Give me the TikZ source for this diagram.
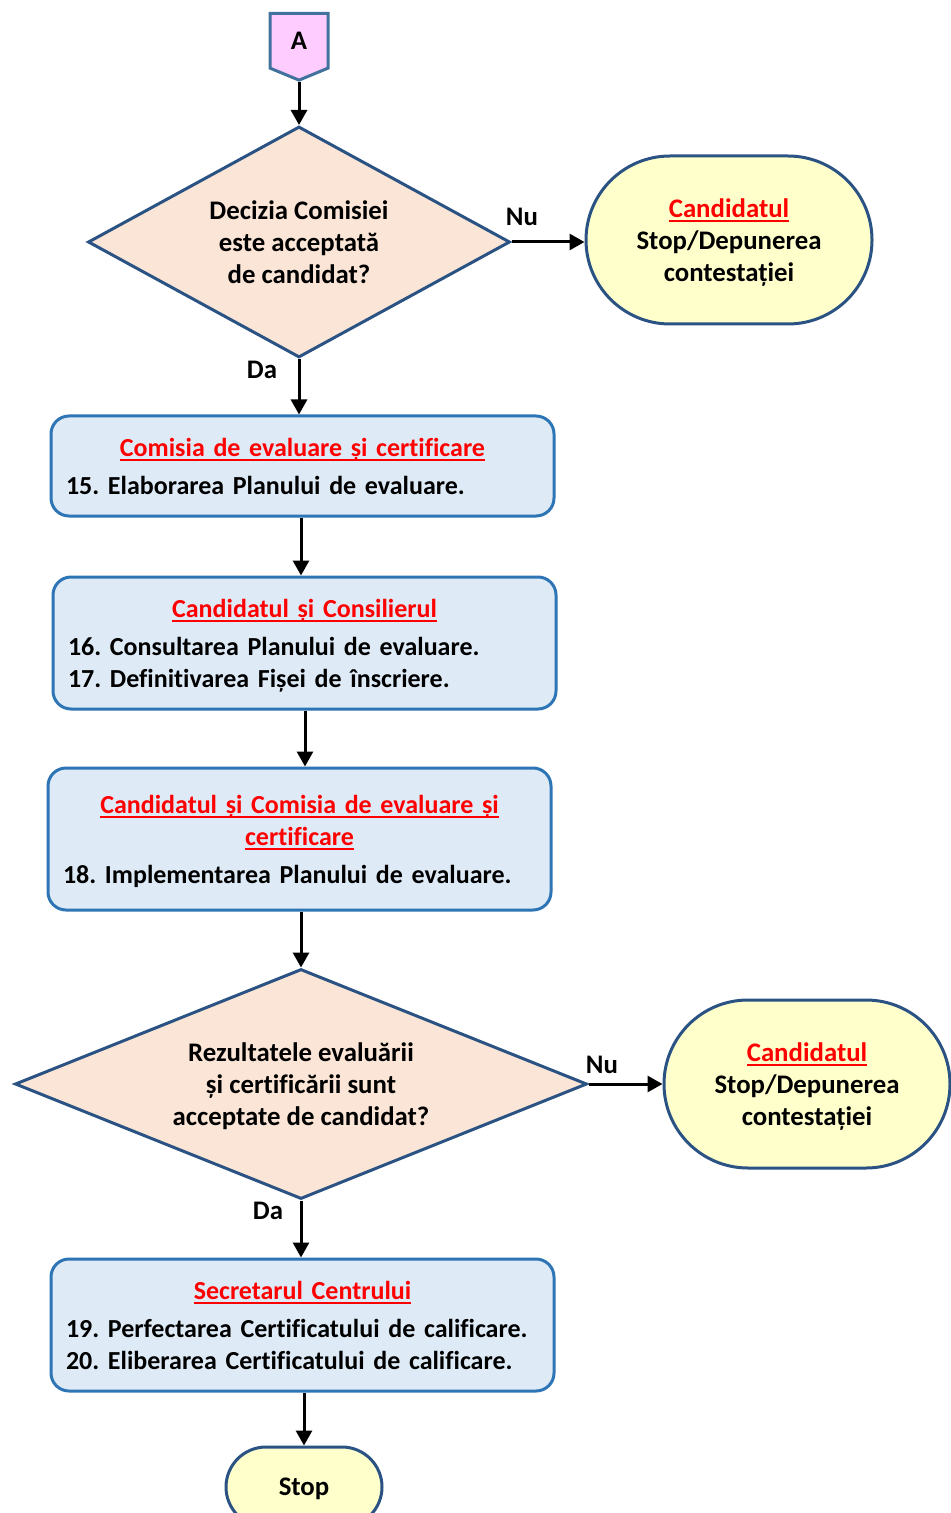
\documentclass[tikz,border=0pt]{standalone}
\usepackage{fontspec}
\setmainfont{Carlito}[Ligatures=NoCommon]
\usetikzlibrary{arrows.meta,shapes.geometric,shapes.symbols}
\definecolor{boxfill}{HTML}{DEEBF7}
\definecolor{boxline}{HTML}{2E75B6}
\definecolor{decfill}{HTML}{FBE5D6}
\definecolor{darkline}{HTML}{2A5384}
\definecolor{endfill}{HTML}{FFFFCC}
\definecolor{conline}{HTML}{41719C}
\definecolor{confill}{HTML}{FFCCFF}
\definecolor{ttlred}{HTML}{FF0000}
\newcommand{\ttl}[1]{\textcolor{ttlred}{\setbox0\hbox{#1}\rlap{\smash{\rule[-2.3pt]{\wd0}{0.9pt}}}\box0}}
\begin{document}
\begin{tikzpicture}[x=0.5pt,y=-0.5pt,
  every node/.style={font=\fontsize{13.4}{16}\selectfont\bfseries\frenchspacing},
  arr/.style={line width=1.5pt,-{Triangle[length=7.5pt,width=8pt]}},
  stepbox/.style={draw=boxline,fill=boxfill,line width=1.5pt,rounded corners=9pt,inner xsep=7.5pt,inner ysep=0pt,minimum width=251.5pt,text width=236.5pt,font=\fontsize{13}{16}\selectfont\bfseries\frenchspacing},
  decision/.style={diamond,draw=darkline,fill=decfill,line width=1.5pt,inner sep=0pt,align=center,text depth=0pt},
  endbox/.style={draw=darkline,fill=endfill,line width=1.5pt,rounded corners=42pt,minimum width=143pt,minimum height=84pt,align=center,text depth=0pt},
  offpage/.style={signal,signal to=south,signal pointer angle=135,draw=conline,fill=confill,line width=1.5pt,minimum width=29pt,minimum height=29pt,inner sep=0pt}]
\useasboundingbox (0,0) rectangle (951,1513);
\node[offpage,anchor=north] (A) at (299,12) {A};
\node[decision,aspect=1.83,minimum width=211pt,minimum height=115.5pt] (d1) at (299,242) {Decizia Comisiei\\este acceptată\\de candidat?};
\node[endbox] (t1) at (729,240) {\ttl{Candidatul}\\Stop/Depunerea\\contestației};
\node[stepbox,minimum height=50pt] (b1) at (302.5,466) {{\centering\ttl{Comisia de evaluare și certificare}\par}\vspace{3pt}\raggedright 15. Elaborarea Planului de evaluare.};
\node[stepbox,minimum height=66pt] (b2) at (304.5,643) {{\centering\ttl{Candidatul și Consilierul}\par}\vspace{3pt}\raggedright 16. Consultarea Planului de evaluare.\par \smash{17. Definitivarea Fișei de înscriere.}};
\node[stepbox,minimum height=71pt] (b3) at (299.5,839) {{\centering\ttl{Candidatul și Comisia de evaluare și}\\\ttl{certificare}\par}\vspace{3pt}\raggedright \smash{18. Implementarea Planului de evaluare.}};
\node[decision,aspect=2.49,minimum width=286pt,minimum height=115pt] (d2) at (301,1084) {Rezultatele evaluării\\și certificării sunt\\acceptate de candidat?};
\node[endbox] (t2) at (807,1084) {\ttl{Candidatul}\\Stop/Depunerea\\contestației};
\node[stepbox,minimum height=66pt] (b4) at (302.5,1325) {{\centering\ttl{Secretarul Centrului}\par}\vspace{3pt}\raggedright 19. Perfectarea Certificatului de calificare.\par 20. Eliberarea Certificatului de calificare.};
\node[endbox,minimum width=78pt,minimum height=40pt,rounded corners=20pt] (stop) at (304,1487) {Stop};
\node (nu1) at (522,217) {Nu};
\node (da1) at (262,370) {Da};
\node (nu2) at (602,1065) {Nu};
\node (da2) at (268,1211) {Da};
\draw[arr] (A.south) -- (d1.north);
\draw[arr] (d1.east) -- (d1.east -| t1.west);
\draw[arr] (d1.south) -- (d1.south |- b1.north);
\draw[arr] (b1.south -| 301,0) -- (b2.north -| 301,0);
\draw[arr] (b2.south -| 305,0) -- (b3.north -| 305,0);
\draw[arr] (b3.south -| d2.north) -- (d2.north);
\draw[arr] (d2.east) -- (d2.east -| t2.west);
\draw[arr] (d2.south) -- (d2.south |- b4.north);
\draw[arr] (b4.south -| stop.north) -- (stop.north);
\end{tikzpicture}
\end{document}
